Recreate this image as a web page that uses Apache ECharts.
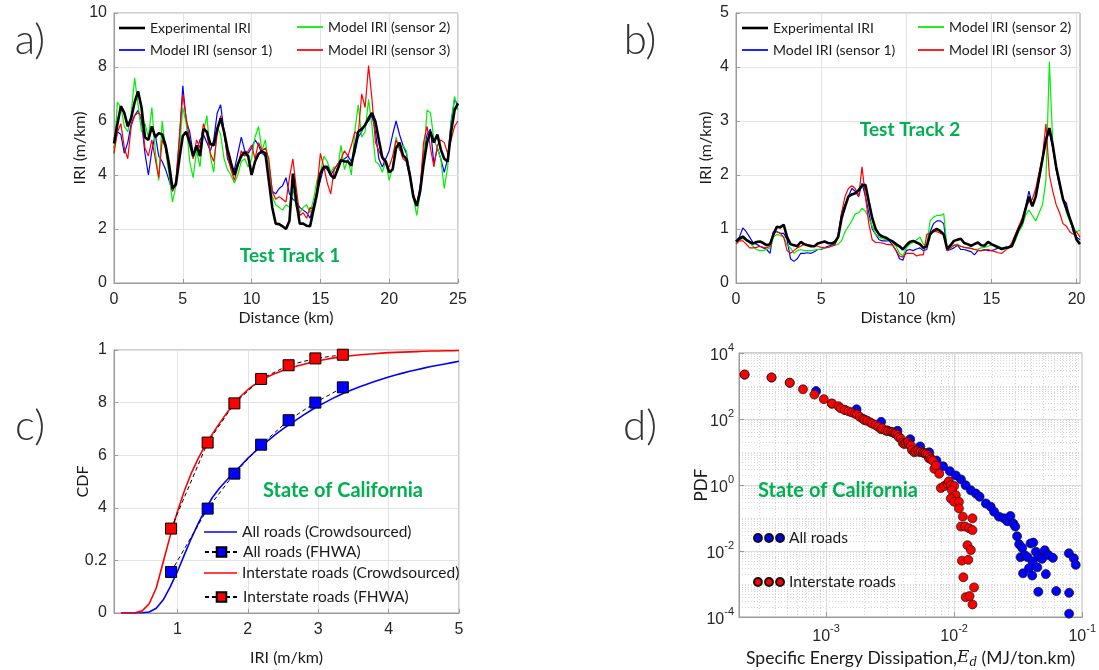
<!DOCTYPE html>
<html><head><meta charset="utf-8">
<script src="https://cdn.jsdelivr.net/npm/echarts@6/dist/echarts.min.js"></script>
<style>html,body{margin:0;padding:0;background:#fff}#c{width:1099px;height:670px}</style>
</head><body><div id="c"></div>
<script>
// ---------- Panel a: Test Track 1 ----------
const distA = [0,0.25,0.5,0.75,1,1.25,1.5,1.75,2,2.25,2.5,2.75,3,3.25,3.5,3.75,4,4.25,4.5,4.75,5,5.25,5.5,5.75,6,6.25,6.5,6.75,7,7.25,7.5,7.75,8,8.25,8.5,8.75,9,9.25,9.5,9.75,10,10.25,10.5,10.75,11,11.25,11.5,11.75,12,12.25,12.5,12.75,13,13.25,13.5,13.75,14,14.25,14.5,14.75,15,15.25,15.5,15.75,16,16.25,16.5,16.75,17,17.25,17.5,17.75,18,18.25,18.5,18.75,19,19.25,19.5,19.75,20,20.25,20.5,20.75,21,21.25,21.5,21.75,22,22.25,22.5,22.75,23,23.25,23.5,23.75,24,24.25,24.5,24.75,25];
const expA = [5.17,5.9,6.55,6.3,5.8,6.1,6.7,7.1,6.5,5.4, 5.3,5.8,5.4,5.55,5.5,5.1,4.4,3.5,3.65,4.6, 5.45,5.6,5.2,4.7,5.1,4.7,5.7,5.6,5.15,5.1, 5.7,6.1,5.6,4.95,4.45,4.0,4.4,4.7,4.85,4.7, 4.0,4.5,4.78,4.88,4.8,3.8,2.8,2.2,2.18,2.1, 2.0,2.3,4.05,3.0,2.2,2.2,2.12,2.1,2.7,3.3, 4.05,4.3,4.3,4.0,3.88,4.2,4.55,4.5,4.5,4.35, 5.0,5.6,5.7,5.85,6.1,6.3,5.97,5.3,4.65,4.5, 4.1,4.2,5.0,5.2,4.74,4.6,4.0,3.2,2.85,3.4, 4.4,5.2,5.6,5.2,5.5,4.95,4.6,4.5,5.6,6.4,6.65];
const s1A = [5.0,5.6,5.5,4.8,5.2,5.9,6.2,6.4,6.0,4.8, 4.0,4.9,5.5,4.7,4.5,4.2,3.8,3.4,3.7,5.3, 7.3,6.0,5.6,4.8,4.9,5.3,5.5,5.2,4.9,5.3, 6.3,6.6,5.6,4.6,4.3,4.2,4.8,5.4,4.9,4.8, 5.0,5.3,5.1,4.8,4.7,4.4,3.4,3.3,3.5,3.6, 3.9,3.3,3.1,3.0,2.8,2.7,2.6,2.4,2.9,3.4, 3.8,4.3,4.2,4.0,4.2,4.4,4.5,4.6,4.7,4.5, 4.8,5.4,5.6,5.9,6.0,6.2,5.6,4.6,4.3,4.6, 4.9,5.5,6.0,5.5,5.1,4.8,4.1,3.3,2.9,3.6, 4.8,5.5,5.7,4.4,5.0,4.6,4.1,4.6,6.0,6.8,6.6];
const s2A = [4.8,6.7,6.5,5.8,5.6,6.3,7.6,6.6,5.6,5.9, 5.4,6.5,4.9,3.8,6.0,4.9,4.0,3.0,3.6,4.9, 6.5,5.9,4.5,3.9,4.9,4.3,5.6,6.2,4.7,4.1, 5.8,5.5,4.6,4.2,4.0,3.7,4.0,4.5,4.6,4.3, 4.6,5.4,5.8,4.9,5.3,4.3,3.2,2.9,2.8,2.7, 2.9,2.8,3.5,2.8,2.6,2.8,2.9,2.6,3.1,3.8, 4.1,4.7,4.5,4.1,4.3,4.2,5.1,4.2,4.6,4.0, 5.6,6.6,5.4,5.6,6.8,5.8,4.5,4.4,4.1,4.5, 3.8,4.3,5.4,4.9,5.1,4.9,4.0,3.2,2.5,3.3, 4.6,6.4,6.3,5.3,5.0,4.6,3.5,4.3,5.9,6.9,6.4];
const s3A = [4.8,5.6,5.9,5.0,4.6,5.8,6.2,6.3,6.2,5.0, 4.7,5.3,4.6,3.9,5.3,5.0,4.2,3.4,3.8,5.4, 7.0,6.1,5.3,4.6,5.3,5.0,5.9,5.5,4.8,4.5, 5.5,6.2,5.5,4.7,4.2,3.8,4.3,4.9,4.7,4.9, 5.1,4.6,5.2,4.9,5.0,4.6,3.4,3.1,3.2,3.1, 3.0,3.9,4.6,3.5,2.5,2.6,2.4,2.8,2.7,3.5, 4.8,4.3,3.7,3.3,4.2,4.4,4.6,4.9,4.7,5.1, 5.6,5.5,7.0,6.5,8.05,6.8,5.2,4.9,4.6,4.4, 4.3,4.7,5.3,5.0,4.6,4.5,3.9,3.3,2.9,3.5, 5.2,5.8,5.0,4.3,5.1,5.3,5.2,4.8,5.3,5.8,6.0];

// ---------- Panel b: Test Track 2 ----------
const distB = [0,0.2,0.4,0.6,0.8,1,1.2,1.4,1.6,1.8,2,2.2,2.4,2.6,2.8,3,3.2,3.4,3.6,3.8,4,4.2,4.4,4.6,4.8,5,5.2,5.4,5.6,5.8,6,6.2,6.4,6.6,6.8,7,7.2,7.4,7.6,7.8,8,8.2,8.4,8.6,8.8,9,9.2,9.4,9.6,9.8,10,10.2,10.4,10.6,10.8,11,11.2,11.4,11.6,11.8,12,12.2,12.4,12.6,12.8,13,13.2,13.4,13.6,13.8,14,14.2,14.4,14.6,14.8,15,15.2,15.4,15.6,15.8,16,16.2,16.4,16.6,16.8,17,17.2,17.4,17.6,17.8,18,18.2,18.4,18.6,18.8,19,19.2,19.4,19.6,19.8,20,20.2];
const expB = [0.77,0.82,0.86,0.8,0.76,0.73,0.76,0.77,0.74,0.7, 0.72,0.9,1.04,1.03,1.08,0.85,0.72,0.7,0.68,0.76, 0.72,0.7,0.68,0.68,0.73,0.75,0.77,0.74,0.73,0.76, 0.85,1.2,1.41,1.6,1.64,1.66,1.72,1.8,1.82,1.5, 1.2,1.0,0.9,0.86,0.84,0.8,0.77,0.72,0.68,0.62, 0.7,0.76,0.78,0.75,0.72,0.65,0.68,0.9,0.97,1.0, 0.96,0.9,0.63,0.7,0.78,0.8,0.82,0.74,0.72,0.69, 0.72,0.75,0.7,0.69,0.76,0.72,0.69,0.66,0.63,0.65, 0.66,0.68,0.85,1.0,1.12,1.37,1.6,1.42,1.6,1.95, 2.3,2.65,2.87,2.55,2.15,1.85,1.55,1.38,1.2,1.02, 0.8,0.72];
const s1B = [0.78,0.85,1.02,0.95,0.85,0.75,0.72,0.68,0.65,0.62, 0.55,0.95,0.95,0.92,0.92,0.8,0.45,0.4,0.45,0.55, 0.55,0.56,0.55,0.58,0.62,0.62,0.65,0.68,0.7,0.72, 0.9,1.3,1.45,1.6,1.75,1.7,1.6,1.85,1.6,1.3, 1.0,0.9,0.8,0.78,0.78,0.78,0.7,0.6,0.45,0.42, 0.6,0.62,0.6,0.63,0.65,0.6,0.62,0.95,1.1,1.15, 1.15,1.1,0.6,0.62,0.65,0.7,0.62,0.62,0.6,0.58, 0.52,0.6,0.6,0.62,0.6,0.6,0.62,0.65,0.64,0.65, 0.66,0.68,0.8,1.0,1.15,1.4,1.7,1.45,1.6,1.9, 2.3,2.65,2.8,2.5,2.1,1.8,1.55,1.48,1.2,0.95, 0.85,0.8];
const s2B = [0.75,0.8,0.82,0.8,0.75,0.68,0.62,0.6,0.6,0.62, 0.65,0.85,0.9,0.88,0.85,0.7,0.65,0.55,0.6,0.62, 0.6,0.6,0.6,0.61,0.62,0.63,0.65,0.66,0.68,0.7, 0.72,0.78,0.95,1.05,1.15,1.28,1.3,1.38,1.33,1.2, 1.05,0.9,0.85,0.82,0.8,0.8,0.75,0.68,0.55,0.5, 0.65,0.72,0.75,0.8,0.85,0.72,0.7,1.15,1.22,1.25, 1.25,1.28,0.62,0.65,0.7,0.72,0.68,0.66,0.65,0.64, 0.62,0.63,0.65,0.66,0.68,0.7,0.7,0.68,0.65,0.65, 0.65,0.68,0.78,0.95,1.05,1.25,1.35,1.25,1.15,1.3, 1.45,1.9,4.1,2.6,2.1,1.85,1.6,1.3,1.15,1.0, 0.95,0.98];
const s3B = [0.72,0.78,0.78,0.72,0.65,0.65,0.66,0.68,0.66,0.65, 0.68,0.95,0.95,0.92,0.85,0.6,0.55,0.6,0.65,0.68, 0.72,0.71,0.7,0.69,0.68,0.66,0.65,0.66,0.68,0.7, 0.85,1.3,1.6,1.75,1.8,1.75,1.6,2.15,1.6,1.1, 0.8,0.75,0.75,0.74,0.72,0.71,0.7,0.6,0.5,0.48, 0.55,0.55,0.55,0.5,0.52,0.52,0.9,0.92,0.95,0.95, 0.92,0.9,0.6,0.65,0.7,0.7,0.68,0.66,0.65,0.64, 0.62,0.61,0.6,0.61,0.62,0.6,0.58,0.56,0.55,0.6, 0.65,0.75,0.9,1.05,1.2,1.4,1.5,1.55,1.75,2.05, 2.35,2.95,2.0,1.7,1.45,1.3,1.1,1.05,0.95,0.9, 0.95,0.85];

// ---------- Panel c: CDF, State of California ----------
const iriC = [0.2,0.3,0.4,0.5,0.6,0.7,0.8,0.9,1.0,1.1,1.2,1.3,1.4,1.5,1.6,1.7,1.8,1.9,2.0,2.1,2.2,2.3,2.4,2.5,2.6,2.7,2.8,2.9,3.0,3.1,3.2,3.3,3.4,3.5,3.6,3.7,3.8,3.9,4.0,4.1,4.2,4.3,4.4,4.5,4.6,4.7,4.8,4.9,5.0];
const allCrowd = [0,0,0,0.001,0.004,0.018,0.05,0.1,0.157,0.222,0.285,0.343,0.395,0.44,0.475,0.505,0.533,0.56,0.588,0.613,0.636,0.658,0.68,0.7,0.718,0.736,0.754,0.771,0.787,0.801,0.815,0.828,0.84,0.851,0.861,0.871,0.88,0.889,0.897,0.905,0.912,0.919,0.925,0.931,0.937,0.942,0.947,0.952,0.957];
const interCrowd = [0,0,0.001,0.008,0.035,0.095,0.195,0.295,0.385,0.465,0.533,0.59,0.64,0.682,0.722,0.76,0.795,0.824,0.849,0.869,0.886,0.9,0.912,0.922,0.931,0.939,0.946,0.953,0.959,0.964,0.969,0.973,0.976,0.979,0.982,0.984,0.986,0.988,0.99,0.991,0.992,0.993,0.994,0.995,0.996,0.996,0.997,0.997,0.998];
const fhwaIri = [0.91,1.43,1.81,2.19,2.58,2.96,3.35];
const allFhwa = [0.156,0.397,0.53,0.64,0.733,0.80,0.858];
const interFhwa = [0.321,0.648,0.797,0.89,0.942,0.968,0.982];
const cdfTickText = ['0','0.2','4','6','8','1'];

// ---------- Panel d: PDF of specific energy dissipation ----------
const allRoadsPdf = [
 [2.31e-4,2200],[3.75e-4,1800],[5.2e-4,1250],[8.36e-4,700],[1.11e-3,290],[1.40e-3,190],[1.73e-3,197],[2.0e-3,95],
 [2.69e-3,82],[3.0e-3,45],[3.61e-3,44],[4.54e-3,24.5],[5.43e-3,14.8],[6.38e-3,9.8],[7.28e-3,5.5],[8.2e-3,3.7],
 [9.25e-3,2.63],[1.03e-2,1.95],[1.13e-2,1.48],[1.23e-2,0.98],[1.35e-2,0.69],[1.48e-2,0.55],[1.58e-2,0.44],
 [1.77e-2,0.275],[1.93e-2,0.22],[2.05e-2,0.155],[2.24e-2,0.11],[2.45e-2,0.098],[2.6e-2,0.08],[2.75e-2,0.115],
 [2.9e-2,0.068],[3.0e-2,0.055],[3.1e-2,0.028],[3.22e-2,0.016],[3.4e-2,0.0125],[3.3e-2,0.0065],[3.55e-2,0.0075],
 [3.75e-2,0.0065],[3.95e-2,0.017],[4.15e-2,0.018],[4.35e-2,0.0095],[4.1e-2,0.0048],[4.55e-2,0.0068],[4.85e-2,0.0058],
 [5.1e-2,0.0105],[5.45e-2,0.0075],[5.9e-2,0.0062],[3.45e-2,0.0021],[3.84e-2,0.003],[4.07e-2,0.0018],[4.46e-2,0.0032],
 [5.2e-2,0.002],[4.54e-2,0.00058],[6.27e-2,0.00061],[7.87e-2,0.0085],[8.6e-2,0.006],[8.9e-2,0.0038],[7.9e-2,0.00054],[7.9e-2,0.000126]
];
const interstatePdf = [
 [2.31e-4,2240],[3.75e-4,1820],[5.2e-4,1260],[6.6e-4,795],[8.1e-4,550],[9.6e-4,400],[1.11e-3,295],[1.25e-3,245],
 [1.3e-3,210],[1.40e-3,186],[1.5e-3,170],[1.59e-3,158],[1.68e-3,145],[1.74e-3,138],[1.84e-3,115],[1.95e-3,100],
 [2.0e-3,93],[2.1e-3,88],[2.21e-3,79],[2.3e-3,72],[2.43e-3,66],[2.55e-3,58],[2.69e-3,49],[2.75e-3,52],[2.94e-3,44],
 [3.05e-3,43],[3.21e-3,41],[3.3e-3,40],[3.41e-3,37],[3.5e-3,36],[3.62e-3,33],[3.7e-3,28],[3.85e-3,25],[3.96e-3,19],
 [4.08e-3,17.5],[4.2e-3,18],[4.34e-3,19.6],[4.45e-3,17],[4.6e-3,15.6],[4.68e-3,11.5],[4.89e-3,9.8],[5.0e-3,10.5],
 [5.19e-3,11],[5.35e-3,10],[5.5e-3,10.3],[5.7e-3,9.6],[5.85e-3,9.4],[6.0e-3,8.8],[6.2e-3,8.2],[6.35e-3,6.5],
 [6.47e-3,7.0],[6.6e-3,6.0],[6.8e-3,5.5],[7.0e-3,3.1],[7.2e-3,3.9],[7.65e-3,2.2],
 [7.87e-3,0.81],[8.36e-3,0.93],[8.87e-3,1.1],[9.1e-3,1.29],[9.42e-3,0.98],[1.0e-2,0.93],[9.6e-3,0.69],[1.03e-2,0.49],
 [9.42e-3,0.39],[1.0e-2,0.31],[1.09e-2,0.31],[1.09e-2,0.195],[1.17e-2,0.11],[1.39e-2,0.098],[1.13e-2,0.055],
 [1.22e-2,0.055],[1.31e-2,0.049],[1.39e-2,0.043],[1.27e-2,0.015],[1.35e-2,0.0107],[1.15e-2,0.0051],[1.29e-2,0.0054],
 [1.18e-2,0.0016],[1.43e-2,0.00079],[1.23e-2,0.0004],[1.32e-2,0.00043],[1.39e-2,0.00024]
];

// ---------- helpers ----------
const TICK = {fontFamily:'Liberation Sans', fontSize:16, color:'#262626'};
const NAME = {fontFamily:'Lato', fontSize:16, color:'#1a1a1a'};
const GRIDLINE = {color:'#e3e3e3', width:1};
const AXISLINE = {onZero:false, lineStyle:{color:'#9a9a9a', width:1}};
const pairs = (xs, ys) => xs.map((x,i)=>[x, ys[i]]);
const logPairs = arr => arr.map(p=>[Math.log10(p[0]), Math.log10(p[1])]);
const pow10Label = v => '{b|10}{s|' + String(Math.round(v)) + '}';
const powRich = {b:{fontFamily:'Liberation Sans', fontSize:16, color:'#262626', lineHeight:22, verticalAlign:'bottom'},
                 s:{fontFamily:'Liberation Sans', fontSize:11, color:'#262626', lineHeight:11, verticalAlign:'top'}};

const minorX = [], minorY = [];
for (let n=-4;n<=-2;n++) for (let k=2;k<=9;k++){const v=Math.log10(k)+n; if(v>-3.68&&v<-1) minorX.push(v);}
for (let n=-4;n<=3;n++) for (let k=1;k<=9;k++){ if(k===1 && n%2===0) continue; minorY.push(Math.log10(k)+n);}

function lineSeries(name, xi, data, color, width, z){
  return {name, type:'line', xAxisIndex:xi, yAxisIndex:xi, data, symbol:'none', z,
          lineStyle:{color, width}, itemStyle:{color}, animation:false};
}
const LTXT = {fontFamily:'Lato', fontSize:14, color:'#1a1a1a', lineHeight:16};
const thinIcon = 'path://M0,0H30V2H0Z';
const thickIcon = 'path://M0,0H30V3H0Z';
function leg(name, left, top, extra){
  return Object.assign({data:[name], left, top, padding:0, itemWidth:26, itemHeight:14, selectedMode:false,
    icon:thinIcon, textStyle:LTXT}, extra||{});
}

const grids = [
  {left:114, top:13, width:344, height:270},
  {left:736, top:13, width:344, height:270},
  {left:114, top:350, width:345, height:263},
  {left:739, top:353, width:344, height:266}
];
grids.forEach(g=>{g.show=true; g.borderColor='#9a9a9a'; g.borderWidth=1;});

const TICKSTYLE = {inside:true, length:4, lineStyle:{color:'#9a9a9a'}};
const xAxis = [
  {gridIndex:0, type:'value', min:0, max:25, interval:5, name:'Distance (km)', nameLocation:'middle', nameGap:27, nameMoveOverlap:false, nameTextStyle:NAME,
   axisLine:AXISLINE, axisTick:TICKSTYLE, axisLabel:Object.assign({margin:9}, TICK), splitLine:{lineStyle:GRIDLINE}},
  {gridIndex:1, type:'value', min:0, max:20.2, name:'Distance (km)', nameLocation:'middle', nameGap:27, nameMoveOverlap:false, nameTextStyle:NAME,
   axisLine:AXISLINE, axisTick:Object.assign({customValues:[0,5,10,15,20]}, TICKSTYLE),
   axisLabel:Object.assign({margin:9, customValues:[0,5,10,15,20]}, TICK), splitLine:{lineStyle:GRIDLINE}},
  {gridIndex:2, type:'value', min:0.1, max:5, name:'IRI (m/km)', nameLocation:'middle', nameGap:37, nameMoveOverlap:false, nameTextStyle:NAME,
   axisLine:AXISLINE, axisTick:Object.assign({customValues:[1,2,3,4,5]}, TICKSTYLE),
   axisLabel:Object.assign({margin:9, customValues:[1,2,3,4,5]}, TICK), splitLine:{lineStyle:GRIDLINE}},
  {gridIndex:3, type:'value', min:-3.68, max:-1, name:'{t|Specific Energy Dissipation,}{i|E}{d|d}{t| (MJ/ton.km)}',
   nameLocation:'middle', nameGap:30, nameMoveOverlap:false,
   nameTextStyle:{rich:{t:{fontFamily:'Lato', fontSize:17.5, color:'#1a1a1a', lineHeight:22},
                       i:{fontFamily:'DejaVu Serif', fontStyle:'italic', fontSize:17, color:'#1a1a1a', lineHeight:22},
                       d:{fontFamily:'DejaVu Serif', fontStyle:'italic', fontSize:12, color:'#1a1a1a', lineHeight:12, verticalAlign:'bottom'}}},
   axisLine:AXISLINE, axisTick:{inside:true, length:5, lineStyle:{color:'#9a9a9a'}, customValues:[-3,-2,-1]},
   axisLabel:{margin:6, customValues:[-3,-2,-1], formatter:pow10Label, rich:powRich}, splitLine:{lineStyle:{color:'#dcdcdc', width:1}}},
  {gridIndex:3, type:'value', min:-3.68, max:-1, position:'bottom', axisLine:{show:false, onZero:false}, axisLabel:{show:false},
   axisTick:{show:false, customValues:minorX}, splitLine:{show:true, lineStyle:{color:'#d6d6d6', width:1, type:[1,2]}}}
];
const yAxis = [
  {gridIndex:0, type:'value', min:0, max:10, interval:2, name:'IRI (m/km)', nameLocation:'middle', nameGap:26, nameMoveOverlap:false, nameTextStyle:NAME,
   axisLine:AXISLINE, axisTick:TICKSTYLE, axisLabel:Object.assign({margin:7}, TICK), splitLine:{lineStyle:GRIDLINE}},
  {gridIndex:1, type:'value', min:0, max:5, interval:1, name:'IRI (m/km)', nameLocation:'middle', nameGap:22, nameMoveOverlap:false, nameTextStyle:NAME,
   axisLine:AXISLINE, axisTick:TICKSTYLE, axisLabel:Object.assign({margin:7}, TICK), splitLine:{lineStyle:GRIDLINE}},
  {gridIndex:2, type:'value', min:0, max:1, interval:0.2, name:'CDF', nameLocation:'middle', nameGap:23, nameMoveOverlap:false, nameTextStyle:NAME,
   axisLine:AXISLINE, axisTick:TICKSTYLE,
   axisLabel:Object.assign({margin:7, formatter:v=>cdfTickText[Math.round(v*5)]}, TICK), splitLine:{lineStyle:GRIDLINE}},
  {gridIndex:3, type:'value', min:-4, max:4, interval:2, name:'PDF', nameLocation:'middle', nameGap:29, nameMoveOverlap:false, nameTextStyle:Object.assign({}, NAME, {fontSize:17}),
   axisLine:AXISLINE, axisTick:{inside:true, length:5, lineStyle:{color:'#9a9a9a'}},
   axisLabel:{margin:5, formatter:pow10Label, rich:powRich}, splitLine:{lineStyle:{color:'#dcdcdc', width:1}}},
  {gridIndex:3, type:'value', min:-4, max:4, position:'left', axisLine:{show:false, onZero:false}, axisLabel:{show:false},
   axisTick:{show:false, customValues:minorY}, splitLine:{show:true, lineStyle:{color:'#d6d6d6', width:1, type:[1,2]}}}
];

const series = [
  lineSeries('Model IRI (sensor 1)', 0, pairs(distA, s1A), '#0000ff', 1.2, 2),
  lineSeries('Model IRI (sensor 2)', 0, pairs(distA, s2A), '#00ee00', 1.2, 2),
  lineSeries('Model IRI (sensor 3)', 0, pairs(distA, s3A), '#ff0000', 1.2, 2),
  lineSeries('Experimental IRI', 0, pairs(distA, expA), '#000000', 2.6, 3),
  lineSeries('Model IRI (sensor 1) ', 1, pairs(distB, s1B), '#0000ff', 1.2, 2),
  lineSeries('Model IRI (sensor 2) ', 1, pairs(distB, s2B), '#00ee00', 1.2, 2),
  lineSeries('Model IRI (sensor 3) ', 1, pairs(distB, s3B), '#ff0000', 1.2, 2),
  lineSeries('Experimental IRI ', 1, pairs(distB, expB), '#000000', 2.6, 3),
  lineSeries('All roads (Crowdsourced)', 2, pairs(iriC, allCrowd), '#0000ff', 1.6, 2),
  lineSeries('Interstate roads (Crowdsourced)', 2, pairs(iriC, interCrowd), '#ff0000', 1.6, 2),
  {name:'All roads (FHWA)', type:'line', xAxisIndex:2, yAxisIndex:2, data:pairs(fhwaIri, allFhwa), symbol:'rect', symbolSize:11, z:4,
   lineStyle:{color:'#000', width:1, type:[4,3]}, itemStyle:{color:'#0000ff', borderColor:'#000', borderWidth:1}},
  {name:'Interstate roads (FHWA)', type:'line', xAxisIndex:2, yAxisIndex:2, data:pairs(fhwaIri, interFhwa), symbol:'rect', symbolSize:11, z:4,
   lineStyle:{color:'#000', width:1, type:[4,3]}, itemStyle:{color:'#ff0000', borderColor:'#000', borderWidth:1}},
  {name:'All roads', type:'scatter', xAxisIndex:3, yAxisIndex:3, data:logPairs(allRoadsPdf), symbolSize:9, z:3,
   itemStyle:{color:'#0000ff', borderColor:'#111', borderWidth:0.7, opacity:1}},
  {name:'Interstate roads', type:'scatter', xAxisIndex:3, yAxisIndex:3, data:logPairs(interstatePdf), symbolSize:9, z:4,
   itemStyle:{color:'#ff0000', borderColor:'#111', borderWidth:0.7, opacity:1}}
];

const dots = 'path://M5,0A5,5,0,1,1,5,10A5,5,0,1,1,5,0ZM19,0A5,5,0,1,1,19,10A5,5,0,1,1,19,0ZM33,0A5,5,0,1,1,33,10A5,5,0,1,1,33,0Z';
const CTXT = {fontFamily:'Lato', fontSize:15.5, color:'#1a1a1a', lineHeight:16};
const DTXT = {fontFamily:'Lato', fontSize:15.5, color:'#1a1a1a', lineHeight:16};
const legend = [
  leg('Experimental IRI', 119, 20, {icon:thickIcon}), leg('Model IRI (sensor 1)', 119, 42),
  leg('Model IRI (sensor 2)', 297, 19), leg('Model IRI (sensor 3)', 297, 42),
  leg('Experimental IRI ', 742, 20, {icon:thickIcon}), leg('Model IRI (sensor 1) ', 742, 42),
  leg('Model IRI (sensor 2) ', 918, 19), leg('Model IRI (sensor 3) ', 918, 42),
  leg('All roads (Crowdsourced)', 204, 524, {itemWidth:33, itemHeight:12, icon:'path://M0,0H33V1.6H0Z', textStyle:CTXT}),
  leg('All roads (FHWA)', 204, 544, {itemWidth:33, itemHeight:12, icon:null, textStyle:CTXT}),
  leg('Interstate roads (Crowdsourced)', 204, 565, {itemWidth:33, itemHeight:12, icon:'path://M0,0H33V1.6H0Z', textStyle:CTXT}),
  leg('Interstate roads (FHWA)', 204, 589, {itemWidth:33, itemHeight:12, icon:null, textStyle:CTXT}),
  leg('All roads', 753, 530, {icon:dots, itemWidth:30, itemHeight:9, textStyle:DTXT}),
  leg('Interstate roads', 753, 574, {icon:dots, itemWidth:30, itemHeight:9, textStyle:DTXT})
];
legend.forEach(l=>{ if(l.icon===null) delete l.icon; });

const GREEN = '#00b050';
const txt = (text, x, y, font, fill) => ({type:'text', x, y, z:10, style:{text, font, fill, align:'center', verticalAlign:'middle'}});
const graphic = [
  txt('a)', 30, 40, '300 42px Lato', '#333'),
  txt('b)', 640, 40, '300 42px Lato', '#333'),
  txt('c)', 30, 426, '300 42px Lato', '#333'),
  txt('d)', 640, 426, '300 42px Lato', '#333'),
  txt('Test Track 1', 290, 256, 'bold 19px Lato', GREEN),
  txt('Test Track 2', 910, 130, 'bold 19px Lato', GREEN),
  txt('State of California', 343, 491, 'bold 20px Lato', GREEN),
  txt('State of California', 838, 491, 'bold 20px Lato', GREEN)
];

const chart = echarts.init(document.getElementById('c'), null, {renderer:'canvas'});
chart.setOption({animation:false, backgroundColor:'#fff', grid:grids, xAxis, yAxis, series, legend, graphic});
</script></body></html>
